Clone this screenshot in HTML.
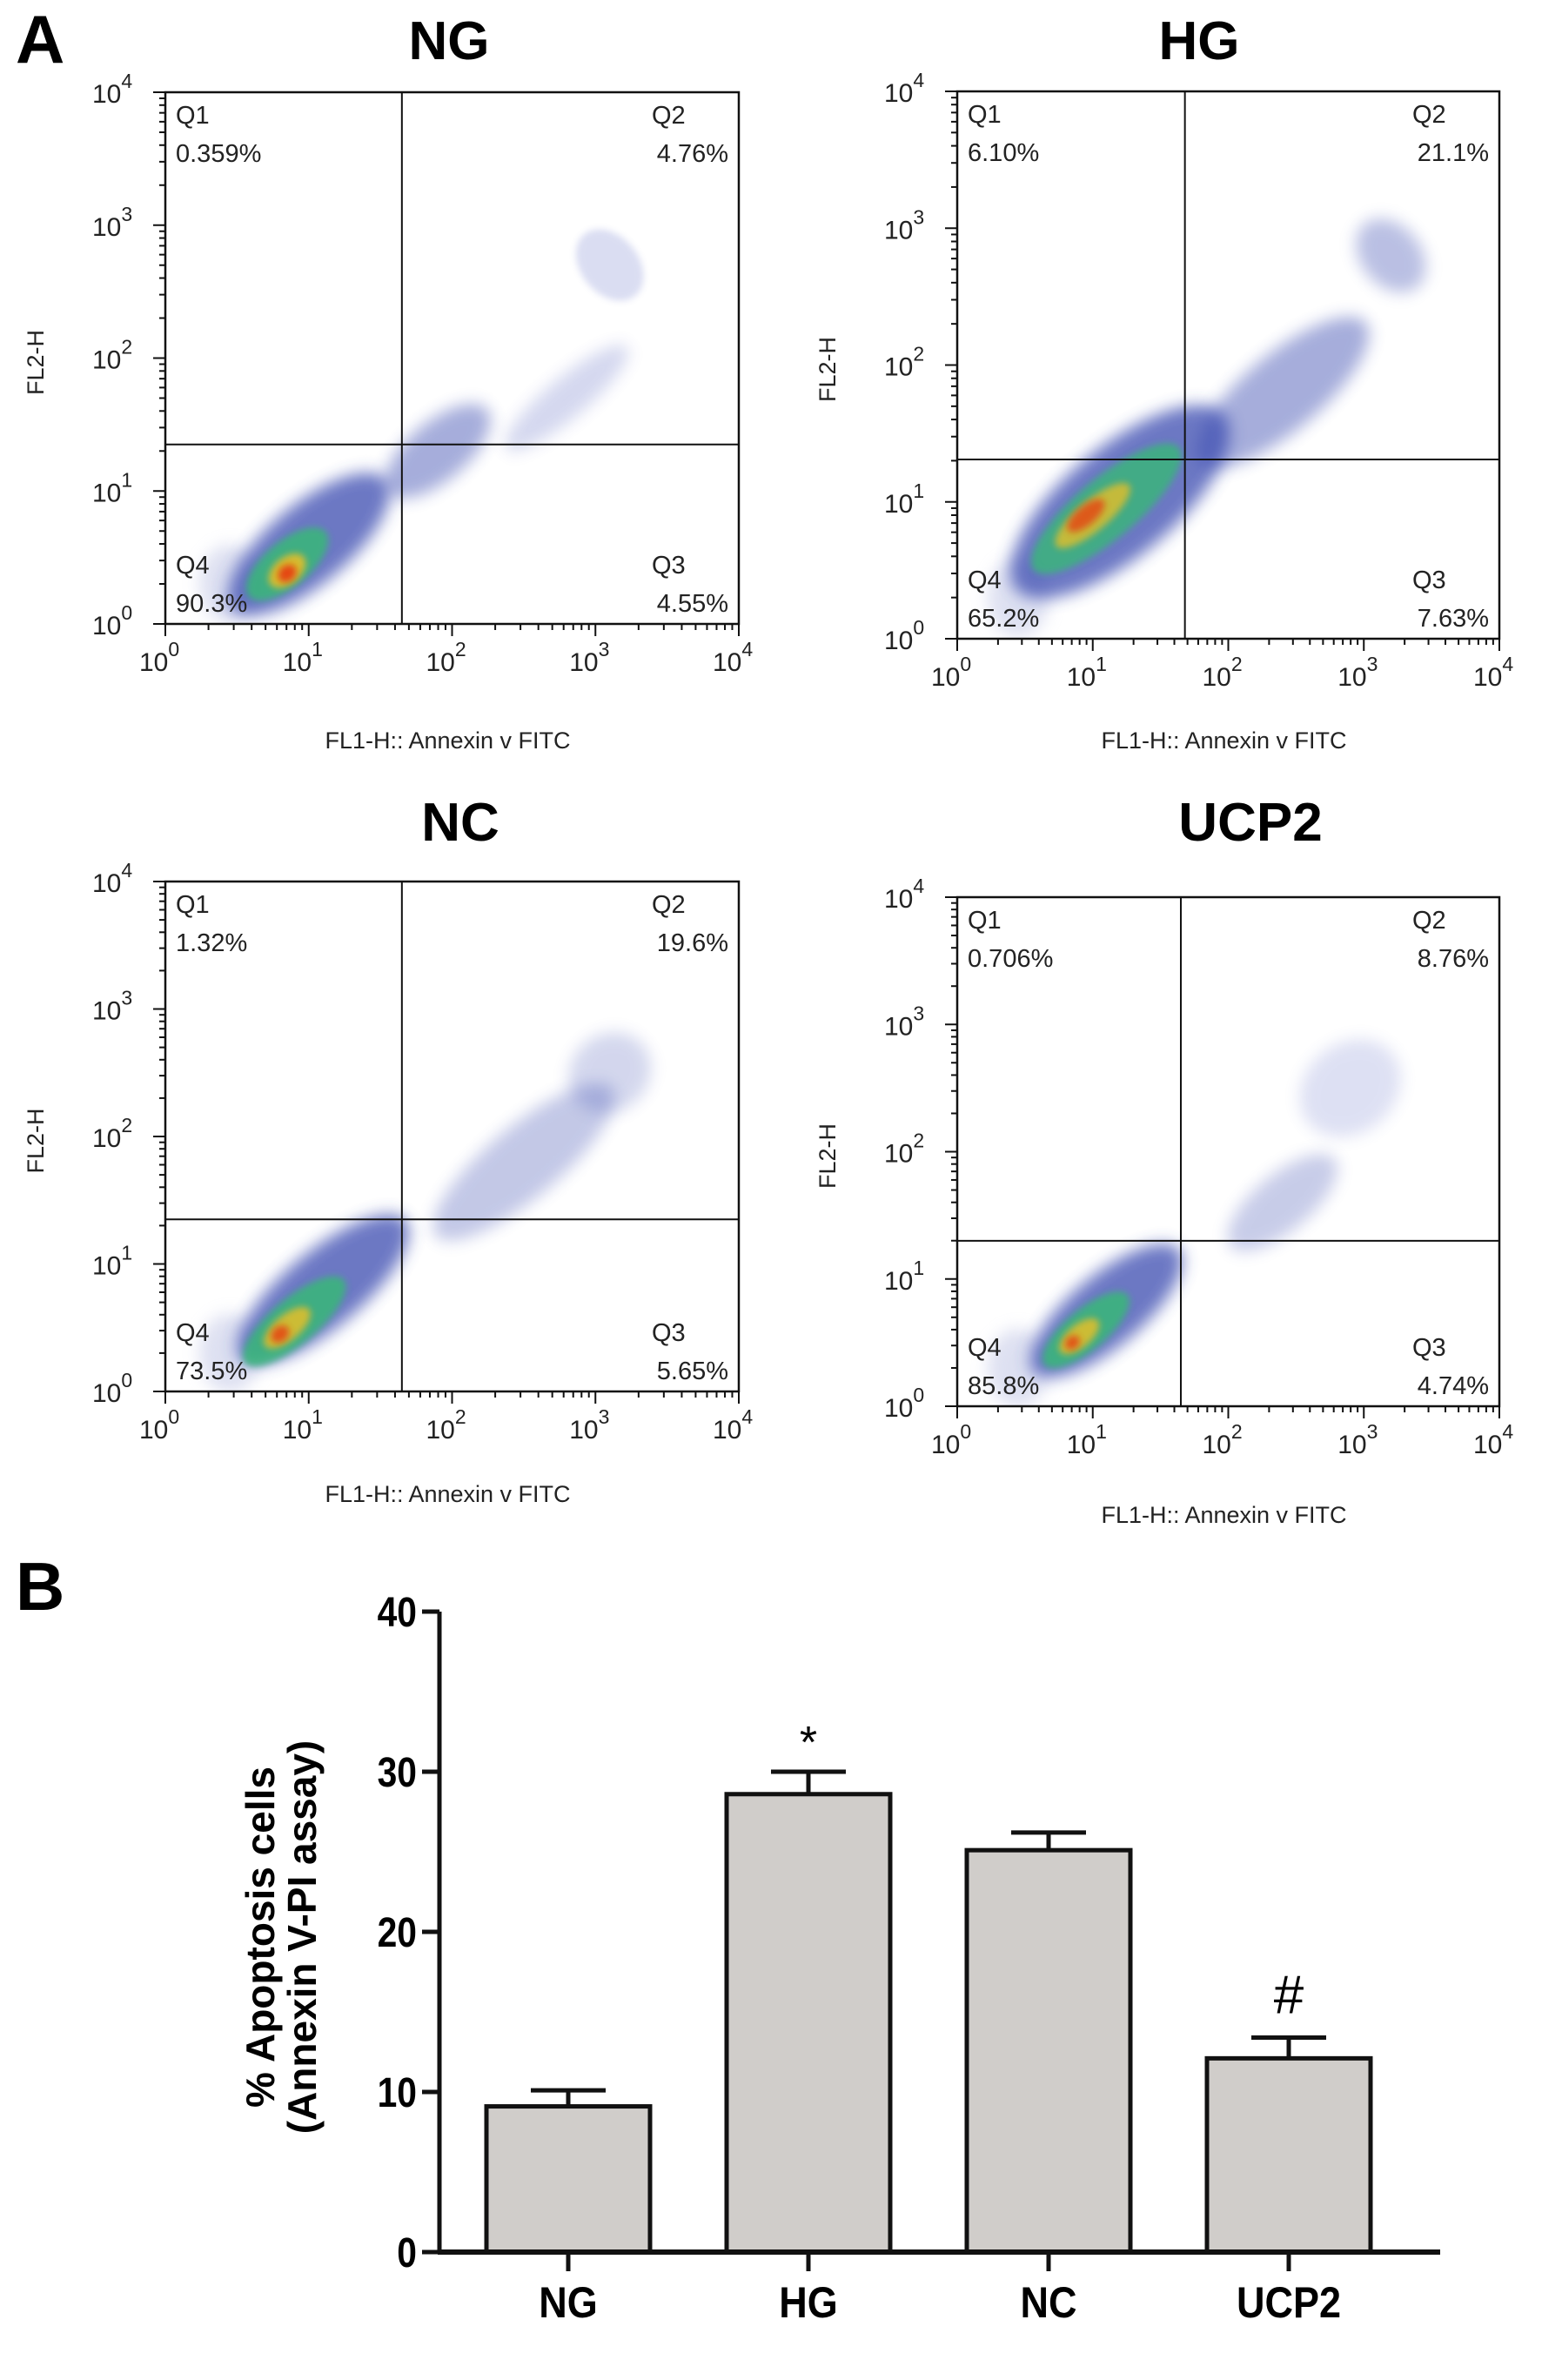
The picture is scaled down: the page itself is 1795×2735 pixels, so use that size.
<!DOCTYPE html>
<html><head><meta charset="utf-8"><style>
html,body{margin:0;padding:0;background:#fff;}
svg{display:block;font-family:"Liberation Sans",Arial,sans-serif;}
</style></head><body>
<svg id="fig" width="1795" height="2735" viewBox="0 0 1795 2735" xmlns="http://www.w3.org/2000/svg">
<defs>
<filter id="blur" x="-50%" y="-50%" width="200%" height="200%"><feGaussianBlur stdDeviation="9"/></filter>
<filter id="blur2" x="-50%" y="-50%" width="200%" height="200%"><feGaussianBlur stdDeviation="4"/></filter>
</defs>
<text x="18" y="72" font-size="78" font-weight="bold">A</text>
<text x="18" y="1850" font-size="78" font-weight="bold">B</text>
<g id="flows"></g>
<g id="bars"></g>
</svg>
<script>
const NS="http://www.w3.org/2000/svg";
function mk(tag,attrs,parent,txt){const e=document.createElementNS(NS,tag);for(const k in attrs)e.setAttribute(k,attrs[k]);if(txt!==undefined)e.textContent=txt;parent.appendChild(e);return e;}

// ---------- Flow cytometry panels ----------
const flowNames=["NG","HG","NC","UCP2"];
const flowQ1=["0.359%","6.10%","1.32%","0.706%"];
const flowQ2=["4.76%","21.1%","19.6%","8.76%"];
const flowQ3=["4.55%","7.63%","5.65%","4.74%"];
const flowQ4=["90.3%","65.2%","73.5%","85.8%"];
const gateX=[1.65,1.68,1.65,1.65];
const gateY=[1.35,1.31,1.35,1.3];
// density blobs [logX, logY, radiusX(dec), radiusY(dec), colour, opacity]
const blobNG=[[1.0,0.6,0.7,0.3,"#3a4bb0",0.75],[1.9,1.3,0.45,0.22,"#3a4bb0",0.45],[2.8,1.7,0.55,0.15,"#4050b8",0.22],[3.1,2.7,0.2,0.3,"#4a58c0",0.2],[0.85,0.45,0.35,0.17,"#38b878",0.85],[0.85,0.4,0.15,0.1,"#f0c020",0.85],[0.85,0.38,0.07,0.06,"#e83010",0.85]];
const blobHG=[[1.2,1.0,1.0,0.4,"#3a4bb0",0.75],[2.4,1.8,0.8,0.28,"#3a4bb0",0.45],[3.2,2.8,0.22,0.3,"#3a4bb0",0.35],[1.1,0.95,0.7,0.22,"#38b878",0.8],[1.0,0.9,0.35,0.11,"#f0c020",0.75],[0.95,0.9,0.17,0.07,"#e83010",0.7]];
const blobNC=[[1.1,0.8,0.75,0.3,"#3a4bb0",0.75],[2.5,1.8,0.8,0.28,"#3a4bb0",0.3],[3.1,2.5,0.3,0.3,"#3a4bb0",0.22],[0.9,0.55,0.45,0.18,"#38b878",0.85],[0.85,0.5,0.2,0.1,"#f0c020",0.8],[0.8,0.45,0.07,0.06,"#e83010",0.75]];
const blobUC=[[1.1,0.75,0.7,0.28,"#3a4bb0",0.75],[2.4,1.6,0.5,0.22,"#3a4bb0",0.28],[2.9,2.5,0.4,0.35,"#4a58c0",0.18],[0.95,0.6,0.4,0.16,"#38b878",0.85],[0.9,0.55,0.18,0.09,"#f0c020",0.8],[0.85,0.5,0.06,0.05,"#e83010",0.75]];
const flowBlobs=[blobNG,blobHG,blobNC,blobUC];
const boxes=[[190,106,849,717],[1100,105,1723,734],[190,1013,849,1599],[1100,1031,1723,1616]];
const titlePos=[[516,68],[1378,68],[529,966],[1437,966]];
const xlabY=[860,860,1726,1750];

const fg=document.getElementById('flows');
flowNames.forEach((nm,i)=>{
  const [l,t,r,b]=boxes[i];
  const X=lg=>l+lg/4*(r-l), Y=lg=>b-lg/4*(b-t);
  const g=mk('g',{},fg);
  
  
  const tt=mk('text',{x:titlePos[i][0],y:titlePos[i][1],'font-size':62,'font-weight':'bold','text-anchor':'middle'},g,nm);
  
  
  const cl=mk('g',{},g);
  
  
  const cp=mk('clipPath',{id:'cp'+i},g);mk('rect',{x:l,y:t,width:r-l,height:b-t},cp);
  cl.setAttribute('clip-path','url(#cp'+i+')');
  mk('ellipse',{cx:X(0.45),cy:Y(0.3),rx:35,ry:45,fill:'#c8cce8',opacity:0.6,filter:'url(#blur)'},cl);
  flowBlobs[i].forEach((bb,j)=>{
    const cx=X(bb[0]),cy=Y(bb[1]),rx=bb[2]/4*(r-l),ry=bb[3]/4*(b-t);
    const e=mk('ellipse',{cx:cx,cy:cy,rx:rx,ry:ry,fill:bb[4],opacity:bb[5],filter:j<3?'url(#blur)':'url(#blur2)',transform:`rotate(-40 ${cx} ${cy})`},cl);
    
    
  });
  const bx=mk('rect',{x:l,y:t,width:r-l,height:b-t,fill:'none',stroke:'#111','stroke-width':2.5},g);
  
  
  const gv=mk('line',{x1:X(gateX[i]),x2:X(gateX[i]),y1:t,y2:b,stroke:'#111','stroke-width':2},g);
  
  
  const gh=mk('line',{x1:l,x2:r,y1:Y(gateY[i]),y2:Y(gateY[i]),stroke:'#111','stroke-width':2},g);
  
  
  const fs=29;
  const q=[["Q1",flowQ1[i],l+12,t+36,'start'],["Q2",flowQ2[i],r-12,t+36,'end'],["Q4",flowQ4[i],l+12,b-58,'start'],["Q3",flowQ3[i],r-12,b-58,'end']];
  q.forEach(qq=>{
    const a=mk('text',{x:qq[4]==='end'?qq[2]-88:qq[2],y:qq[3],'font-size':fs,fill:'#222'},g,qq[0]);
    
    
    const p=mk('text',{x:qq[2],y:qq[3]+44,'font-size':fs,'text-anchor':qq[4],fill:'#222'},g,qq[1]);
    
    
  });
  for(let d=0;d<4;d++){for(let m=1;m<10;m++){const v=d+Math.log10(m);
    const len=m===1?14:7;
    mk('line',{x1:X(v),x2:X(v),y1:b,y2:b+len,stroke:'#111','stroke-width':2},g);
    mk('line',{x1:l,x2:l-len,y1:Y(v),y2:Y(v),stroke:'#111','stroke-width':2},g);}}
  mk('line',{x1:X(4),x2:X(4),y1:b,y2:b+14,stroke:'#111','stroke-width':2},g);
  mk('line',{x1:l,x2:l-14,y1:Y(4),y2:Y(4),stroke:'#111','stroke-width':2},g);
  for(let d=0;d<=4;d++){
    const xt=mk('text',{x:X(d)-30,y:b+54,'font-size':30,fill:'#222'},g);
    
    
    xt.innerHTML='10<tspan dy="-17" font-size="23">'+d+'</tspan>';
    const yt=mk('text',{x:l-84,y:Y(d)+12,'font-size':30,fill:'#222'},g);
    
    
    yt.innerHTML='10<tspan dy="-17" font-size="23">'+d+'</tspan>';
  }
  const xl=mk('text',{x:(l+r)/2-5,y:xlabY[i],'font-size':27,'text-anchor':'middle',fill:'#222'},g,'FL1-H:: Annexin v  FITC');
  
  
  const yx=l-140, yy=(t+b)/2+5;
  const yl=mk('text',{x:yx,y:yy,'font-size':27,'text-anchor':'middle',fill:'#222',transform:`rotate(-90 ${yx} ${yy})`},g,'FL2-H');
  
  
});

// ---------- Bar chart ----------
const categories=["NG","HG","NC","UCP2"];
const meanValues=[9.1,28.6,25.1,12.1];
const errValues=[1.0,1.4,1.1,1.3];
const yTicks=[0,10,20,30,40];
const sigMarks=["","*","","#"];
const bg=document.getElementById('bars');
const ax={l:505,r:1655,top:1852,bot:2588,max:40};
const yS=v=>ax.bot-v/ax.max*(ax.bot-ax.top);
const band=276;
const xC=i=>ax.l+148+band*i;
const bw=188;
categories.forEach((c,i)=>{
  const x=xC(i)-bw/2, y=yS(meanValues[i]);
  const br=mk('rect',{x:x,y:y,width:bw,height:ax.bot-y,fill:'#d0cdca',stroke:'#111','stroke-width':5},bg);
  
  
  const ey=yS(meanValues[i]+errValues[i]);
  const e1=mk('line',{x1:xC(i),x2:xC(i),y1:y,y2:ey,stroke:'#111','stroke-width':5},bg);
  
  
  const e2=mk('line',{x1:xC(i)-43,x2:xC(i)+43,y1:ey,y2:ey,stroke:'#111','stroke-width':5},bg);
  
  
  if(sigMarks[i]){
    const s=mk('text',{x:xC(i),y:ey-(sigMarks[i]==='*'?16:28),'font-size':sigMarks[i]==='*'?52:62,'text-anchor':'middle'},bg,sigMarks[i]);
    
    
  }
  mk('line',{x1:xC(i),x2:xC(i),y1:ax.bot,y2:ax.bot+22,stroke:'#111','stroke-width':5},bg);
  const cl=mk('text',{x:xC(i)/0.9,y:2663,'font-size':50,'font-weight':'bold','text-anchor':'middle',transform:`scale(0.9,1)`},bg,c);
  
  
});
const yaxis=mk('line',{x1:ax.l,x2:ax.l,y1:ax.top,y2:ax.bot+2,stroke:'#111','stroke-width':5},bg);


const xaxis=mk('line',{x1:ax.l-2,x2:ax.r,y1:ax.bot,y2:ax.bot,stroke:'#111','stroke-width':6},bg);


yTicks.forEach(v=>{
  mk('line',{x1:ax.l-20,x2:ax.l,y1:yS(v),y2:yS(v),stroke:'#111','stroke-width':5},bg);
  const t=mk('text',{x:(ax.l-26)/0.85,y:yS(v)+17,'font-size':48,'font-weight':'bold','text-anchor':'end',transform:'scale(0.85,1)'},bg,String(v));
  
  
});
const tx=315, ty=2226;
const yt=mk('text',{x:tx,y:ty,'font-size':46,'font-weight':'bold','text-anchor':'middle',transform:`rotate(-90 ${tx} ${ty})`},bg);


mk('tspan',{x:tx,dy:0},yt,'% Apoptosis cells');
mk('tspan',{x:tx,dy:48},yt,'(Annexin V-PI assay)');
</script>
</body></html>
